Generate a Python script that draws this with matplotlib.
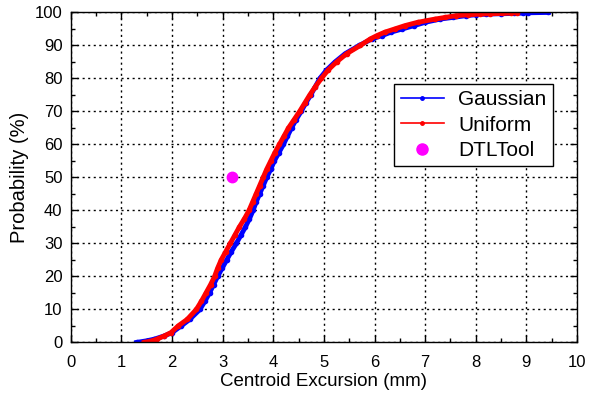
import matplotlib
matplotlib.use("Agg")
import matplotlib.pyplot as plt
from matplotlib.lines import Line2D
from matplotlib.ticker import MultipleLocator

plt.rcParams['font.family'] = ['Liberation Sans', 'DejaVu Sans']

# cumulative probability (%) and centroid excursion (mm)
gauss_prob = [0, 0.5, 1, 2, 3, 5, 7, 10, 12.5, 15, 17.5, 20, 22.5, 25, 27.5, 30, 32.5, 35,
              37.5, 40, 42.5, 45, 47.5, 50, 52.5, 55, 57.5, 60, 62.5, 65, 67.5, 70, 72.5,
              75, 77.5, 80, 82.5, 85, 87.5, 90, 92, 93, 94, 95, 96, 97, 98, 98.5, 99,
              99.3, 99.5, 99.6, 99.7, 99.8, 99.9, 100]
gauss_mm = [1.30, 1.50, 1.65, 1.85, 2.00, 2.18, 2.35, 2.55, 2.65, 2.74, 2.82, 2.90, 2.99,
            3.08, 3.17, 3.27, 3.36, 3.45, 3.53, 3.60, 3.66, 3.73, 3.80, 3.87, 3.95, 4.02,
            4.11, 4.20, 4.28, 4.36, 4.45, 4.55, 4.64, 4.74, 4.83, 4.92, 5.05, 5.22, 5.42,
            5.70, 5.95, 6.15, 6.32, 6.55, 6.78, 7.00, 7.30, 7.55, 7.80, 8.00, 8.21, 8.50,
            8.75, 8.94, 9.04, 9.43]

unif_prob = [0, 0.5, 1, 2, 3, 5, 7, 10, 12.5, 15, 17.5, 20, 22.5, 25, 27.5, 30, 32.5, 35,
             37.5, 40, 42.5, 45, 47.5, 50, 52.5, 55, 57.5, 60, 62.5, 65, 67.5, 70, 72.5,
             75, 77.5, 80, 82.5, 85, 87.5, 90, 92, 93, 94, 95, 96, 97, 98, 98.5, 99,
             99.3, 99.5, 99.6, 99.7, 99.8, 99.9, 100]
unif_mm = [1.45, 1.60, 1.70, 1.85, 1.98, 2.12, 2.30, 2.48, 2.58, 2.67, 2.76, 2.84, 2.90,
           2.97, 3.06, 3.15, 3.24, 3.33, 3.43, 3.52, 3.59, 3.66, 3.73, 3.80, 3.87, 3.95,
           4.03, 4.12, 4.21, 4.30, 4.41, 4.52, 4.62, 4.72, 4.83, 4.95, 5.08, 5.25, 5.45,
           5.72, 5.92, 6.05, 6.20, 6.40, 6.60, 6.85, 7.20, 7.40, 7.60, 7.85, 8.08, 8.28,
           8.51, 8.69, 8.81, 8.81]

dtl_mm = [3.18]
dtl_prob = [50]

fig = plt.figure(figsize=(5.9, 4.01), dpi=100)
ax = fig.add_axes([0.120, 0.146, 0.858, 0.823])

ax.plot(gauss_mm, gauss_prob, color='blue', lw=3.5, marker='.', ms=6)
ax.plot(unif_mm, unif_prob, color='red', lw=3.5, marker='.', ms=6)
ax.plot(dtl_mm, dtl_prob, ls='none', marker='o', ms=7.5, color='magenta')

ax.set_xlim(0, 10)
ax.set_ylim(0, 100)
ax.xaxis.set_major_locator(MultipleLocator(1))
ax.xaxis.set_minor_locator(MultipleLocator(0.5))
ax.yaxis.set_major_locator(MultipleLocator(10))
ax.yaxis.set_minor_locator(MultipleLocator(5))
ax.tick_params(which='both', direction='in', top=True, right=True, labelsize=12, colors='black')
ax.tick_params(which='major', length=5, width=1)
ax.tick_params(which='minor', length=3, width=1)
ax.tick_params(axis='x', which='major', pad=9)
ax.tick_params(axis='y', which='major', pad=6)
ax.grid(True, which='major', ls=(0, (1.5, 2.5)), color='black', lw=1)
for s in ax.spines.values():
    s.set_linewidth(1)

ax.set_xlabel('Centroid Excursion (mm)', fontsize=13.5, labelpad=2)
ax.set_ylabel('Probability (%)', fontsize=14.5, labelpad=4)

handles = [
    Line2D([], [], color='blue', lw=1.2, marker='.', ms=5),
    Line2D([], [], color='red', lw=1.2, marker='.', ms=5),
    Line2D([], [], color='magenta', ls='none', marker='o', ms=8),
]
leg = ax.legend(handles, ['Gaussian', 'Uniform', 'DTLTool'], loc='upper left',
                bbox_to_anchor=(0.639, 0.783), fontsize=15, fancybox=False,
                framealpha=1, edgecolor='black', borderpad=0.3, labelspacing=0.3,
                handlelength=2.07, handletextpad=0.7, borderaxespad=0)
leg.get_frame().set_linewidth(1)

fig.savefig('out.png', dpi=100)
